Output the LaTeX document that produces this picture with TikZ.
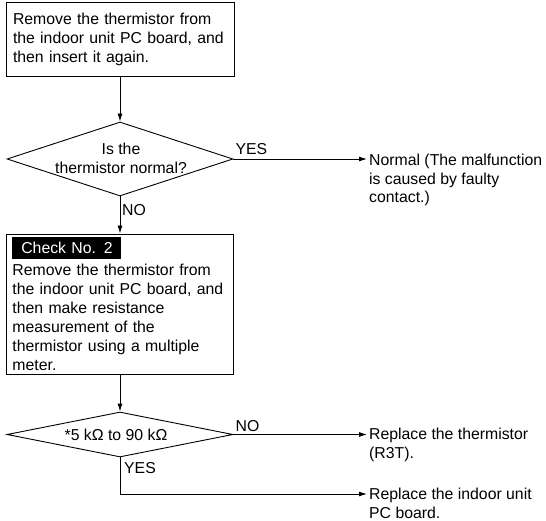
\documentclass[tikz,border=0pt]{standalone}
\usepackage{fontspec}
\setmainfont{Liberation Sans}
\usetikzlibrary{shapes.geometric,arrows.meta}
\newcommand{\checklabel}[1]{{\setlength{\fboxsep}{0pt}\colorbox{black}{\parbox[b][22pt][c]{109pt}{\centering\color{white}#1}}}}

\begin{document}
\begin{tikzpicture}[x=1pt,y=-1pt,
  font=\fontsize{15.8}{19}\selectfont,
  box/.style={draw,line width=0.9pt,rectangle,align=left,inner ysep=0pt},
  decision/.style={draw,line width=0.9pt,diamond,inner sep=0pt},
  result/.style={anchor=north west,align=left,inner xsep=2pt,inner ysep=0pt,
    font=\fontsize{15.8}{18.5}\selectfont},
  answer/.style={inner sep=1pt},
  flow/.style={line width=0.9pt,-{Latex[length=8pt,width=5pt]}}]
  \useasboundingbox (0,0) rectangle (546,521);
  % first check: reinsert the thermistor
  \node[box,minimum width=228,minimum height=74,text width=214,inner xsep=7] (reinsert) at (120,39)
    {Remove the thermistor from\\the indoor unit PC board, and\\then insert it again.};
  \node[decision,minimum width=226,minimum height=74] (normal) at (120,159) {};
  \node[align=center] (normalq) at (121,158) {Is the\\thermistor normal?};
  \node[result] (contact) at (367,154.1) {Normal (The malfunction\\is caused by faulty\\contact.)};
  \node[answer,anchor=south west] (yes1) at ([xshift=1pt,yshift=3pt]normal.east) {YES};
  \node[answer,anchor=north west] (no1) at ([xshift=1pt,yshift=-7pt]normal.south) {NO};
  % check no. 2: resistance measurement
  \node[box,minimum width=227,minimum height=140,text width=215,inner xsep=6] (measure) at (120,304)
    {\checklabel{Check No. 2}\\[-2pt]Remove the thermistor from\\the indoor unit PC board, and\\then make resistance\\measurement of the\\thermistor using a multiple\\meter.};
  \node[decision,minimum width=226,minimum height=45] (range) at (120,434.5) {};
  \node (rangeq) at (116,434.5) {*5 kΩ to 90 kΩ};
  \node[result] (thermres) at (367,428.3) {Replace the thermistor\\(R3T).};
  \node[result] (indoor) at (367,488.3) {Replace the indoor unit\\PC board.};
  \node[answer,anchor=south west] (no2) at ([xshift=1pt,yshift=2pt]range.east) {NO};
  \node[answer,anchor=north west] (yes2) at ([xshift=3pt,yshift=-4pt]range.south) {YES};
  % connectors
  \draw[flow] (reinsert) -- (normal);
  \draw[flow] (normal.east) -- (normal.east -| contact.west);
  \draw[flow] (normal) -- (measure);
  \draw[flow] (measure) -- (range);
  \draw[flow] (range.east) -- (range.east -| thermres.west);
  \draw[flow] (range.south) |- ([yshift=-5.7pt]indoor.north west);
\end{tikzpicture}
\end{document}
